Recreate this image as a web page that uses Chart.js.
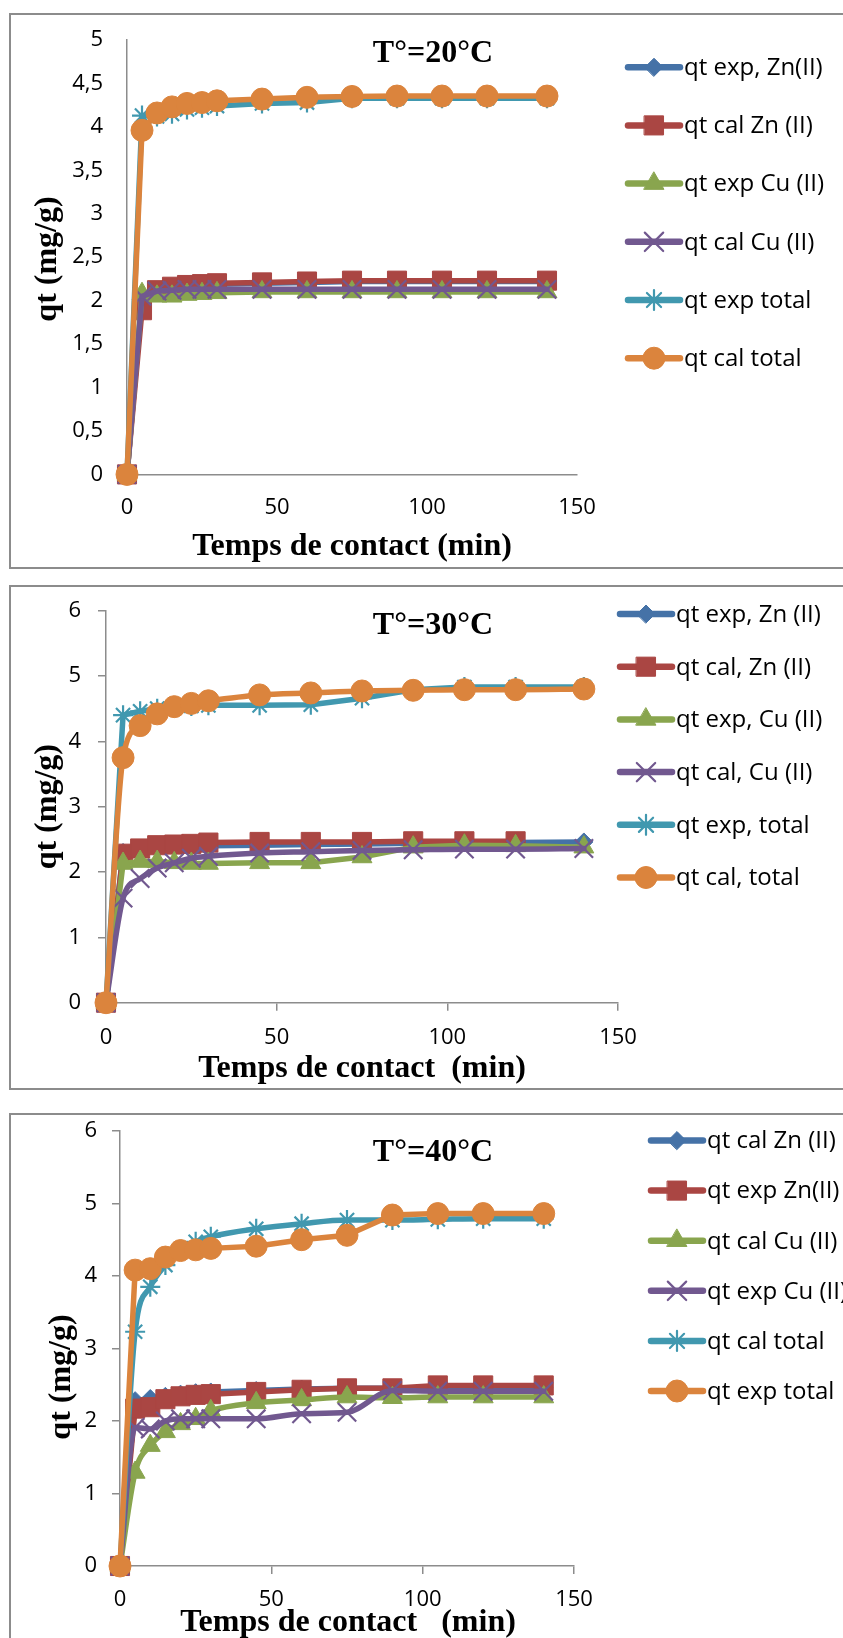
<!DOCTYPE html>
<html><head><meta charset="utf-8">
<script src="https://cdn.jsdelivr.net/npm/chart.js@4.4.1/dist/chart.umd.min.js"></script>
<style>
html,body{margin:0;padding:0;background:#fff;width:843px;height:1638px;overflow:hidden;position:relative}
.box{position:absolute;border:2px solid #8c8c8c;box-sizing:border-box}
canvas{position:absolute;left:0}
</style></head><body>
<div class="box" style="left:9px;top:13px;width:900px;height:556px"></div>
<div class="box" style="left:9px;top:585px;width:900px;height:505px"></div>
<div class="box" style="left:9px;top:1113px;width:900px;height:600px"></div>
<canvas id="c1" width="843" height="580" style="top:0px"></canvas>
<canvas id="c2" width="843" height="520" style="top:580px"></canvas>
<canvas id="c3" width="843" height="538" style="top:1100px"></canvas>
<script>
// ---------- data ----------
const time = [0, 5, 10, 15, 20, 25, 30, 45, 60, 75, 90, 105, 120, 140];
const xTickLabels = ['0', '50', '100', '150'];

// T = 20 °C
const labels20 = ['qt exp, Zn(II)', 'qt cal Zn (II)', 'qt exp Cu (II)', 'qt cal Cu (II)', 'qt exp total', 'qt cal total'];
const znExp20 = [0, 2.05, 2.12, 2.15, 2.17, 2.18, 2.19, 2.20, 2.21, 2.22, 2.22, 2.22, 2.22, 2.22];
const znCal20 = [0, 1.89, 2.12, 2.16, 2.18, 2.19, 2.20, 2.21, 2.22, 2.23, 2.23, 2.23, 2.23, 2.23];
const cuExp20 = [0, 2.08, 2.05, 2.05, 2.07, 2.08, 2.09, 2.10, 2.10, 2.10, 2.10, 2.10, 2.10, 2.10];
const cuCal20 = [0, 2.05, 2.11, 2.12, 2.13, 2.13, 2.13, 2.13, 2.13, 2.13, 2.13, 2.13, 2.13, 2.13];
const totExp20 = [0, 4.13, 4.12, 4.15, 4.20, 4.22, 4.24, 4.27, 4.28, 4.33, 4.33, 4.33, 4.33, 4.33];
const totCal20 = [0, 3.96, 4.16, 4.23, 4.27, 4.28, 4.30, 4.32, 4.34, 4.35, 4.355, 4.355, 4.355, 4.355];
const yTickLabels20 = ['0', '0,5', '1', '1,5', '2', '2,5', '3', '3,5', '4', '4,5', '5'];

// T = 30 °C
const labels30 = ['qt exp, Zn (II)', 'qt cal, Zn (II)', 'qt exp, Cu (II)', 'qt cal, Cu (II)', 'qt exp, total', 'qt cal, total'];
const znExp30 = [0, 2.30, 2.33, 2.36, 2.38, 2.39, 2.40, 2.41, 2.42, 2.43, 2.44, 2.45, 2.45, 2.46];
const znCal30 = [0, 2.28, 2.36, 2.41, 2.42, 2.43, 2.45, 2.46, 2.46, 2.46, 2.47, 2.47, 2.47, null];
const cuExp30 = [0, 2.13, 2.16, 2.16, 2.14, 2.13, 2.13, 2.14, 2.14, 2.23, 2.38, 2.41, 2.40, 2.38];
const cuCal30 = [0, 1.60, 1.90, 2.06, 2.14, 2.21, 2.24, 2.29, 2.31, 2.33, 2.34, 2.35, 2.35, 2.36];
const totExp30 = [0, 4.40, 4.46, 4.50, 4.52, 4.54, 4.55, 4.55, 4.56, 4.66, 4.79, 4.83, 4.83, 4.83];
const totCal30 = [0, 3.75, 4.24, 4.42, 4.53, 4.58, 4.62, 4.71, 4.74, 4.77, 4.78, 4.79, 4.79, 4.80];
const yTickLabels30 = ['0', '1', '2', '3', '4', '5', '6'];

// T = 40 °C
const labels40 = ['qt cal Zn (II)', 'qt exp Zn(II)', 'qt cal Cu (II)', 'qt exp Cu (II)', 'qt cal total', 'qt exp total'];
const znCal40 = [0, 2.28, 2.31, 2.34, 2.37, 2.39, 2.40, 2.42, 2.44, 2.45, 2.45, 2.46, 2.46, 2.46];
const znExp40 = [0, 2.17, 2.19, 2.30, 2.34, 2.36, 2.37, 2.40, 2.43, 2.45, 2.45, 2.49, 2.49, 2.49];
const cuCal40 = [0, 1.29, 1.66, 1.85, 1.96, 2.03, 2.14, 2.25, 2.29, 2.33, 2.32, 2.33, 2.33, 2.33];
const cuExp40 = [0, 1.91, 1.89, 2.00, 2.03, 2.03, 2.03, 2.03, 2.10, 2.12, 2.42, 2.41, 2.41, 2.41];
const totCal40 = [0, 3.23, 3.85, 4.15, 4.36, 4.47, 4.54, 4.65, 4.72, 4.77, 4.77, 4.78, 4.79, 4.79];
const totExp40 = [0, 4.08, 4.10, 4.26, 4.35, 4.36, 4.38, 4.41, 4.50, 4.56, 4.84, 4.86, 4.86, 4.86];
const yTickLabels40 = ['0', '1', '2', '3', '4', '5', '6'];

// ---------- styles ----------
const COLORS = ['#4572A7', '#AA4643', '#89A54E', '#71588F', '#4198AF', '#DB843D'];
const STYLES = ['rectRot', 'rect', 'triangle', 'crossRot', 'star', 'circle'];
const RADII = [9, 13.5, 11.5, 13, 10, 11];
const TICK_FONT = {family: "'Open Sans', 'Noto Sans', sans-serif", size: 22};
const LEG_FONT = "24px 'Open Sans', 'Noto Sans', sans-serif";
const TITLE_FONT = "bold 32px 'Liberation Serif', 'DejaVu Serif', serif";
const AXIS_GRAY = '#8c8c8c';

function makeDatasets(labels, series, smooth) {
  return series.map((vals, i) => ({
    label: labels[i],
    data: time.map((t, j) => ({x: t, y: vals[j]})),
    borderColor: COLORS[i],
    backgroundColor: COLORS[i],
    borderWidth: 5.5,
    borderJoinStyle: 'round',
    borderCapStyle: 'round',
    pointStyle: STYLES[i],
    pointRadius: RADII[i],
    pointHoverRadius: RADII[i],
    pointBorderWidth: (STYLES[i] === 'crossRot' || STYLES[i] === 'star') ? 2.2 : 1,
    pointBorderColor: COLORS[i],
    pointBackgroundColor: COLORS[i],
    cubicInterpolationMode: smooth[i] ? 'monotone' : 'default',
    tension: 0,
    order: 6 - i,
    clip: false
  }));
}

const textPlugin = {
  id: 'texts',
  afterDraw(chart, args, o) {
    const ctx = chart.ctx;
    const top = o.canvasTop;
    ctx.save();
    // legend
    const dsets = chart.data.datasets;
    ctx.font = LEG_FONT;
    ctx.textBaseline = 'middle';
    ctx.textAlign = 'left';
    dsets.forEach((d, i) => {
      const y = o.leg.y0 + i * o.leg.dy - top;
      ctx.strokeStyle = d.borderColor;
      ctx.lineWidth = 6.5;
      ctx.lineCap = 'round';
      ctx.beginPath();
      ctx.moveTo(o.leg.x1, y);
      ctx.lineTo(o.leg.x2, y);
      ctx.stroke();
      ctx.fillStyle = d.borderColor;
      ctx.strokeStyle = d.borderColor;
      ctx.lineWidth = d.pointBorderWidth;
      if (Chart.helpers && Chart.helpers.drawPoint) {
        Chart.helpers.drawPoint(ctx, {pointStyle: d.pointStyle, radius: d.pointRadius, rotation: 0, borderWidth: d.pointBorderWidth}, (o.leg.x1 + o.leg.x2) / 2, y);
      }
      ctx.fillStyle = '#000';
      ctx.fillText(d.label, o.leg.tx, y + 1);
    });
    // titles
    ctx.fillStyle = '#000';
    ctx.font = TITLE_FONT;
    ctx.textAlign = 'center';
    ctx.textBaseline = 'middle';
    ctx.fillText(o.title.text, o.title.x, o.title.y - top);
    ctx.fillText(o.xTitle.text, o.xTitle.x, o.xTitle.y - top);
    ctx.translate(o.yTitle.x, o.yTitle.y - top);
    ctx.rotate(-Math.PI / 2);
    ctx.fillText(o.yTitle.text, 0, 0);
    ctx.restore();
  }
};

function makeChart(id, cfg) {
  const canvas = document.getElementById(id);
  const H = canvas.height;
  const top = cfg.canvasTop;
  const area = {left: cfg.area.left, right: cfg.area.right, top: cfg.area.top - top, bottom: cfg.area.bottom - top};
  return new Chart(canvas, {
    type: 'line',
    data: {datasets: makeDatasets(cfg.labels, cfg.series, cfg.smooth)},
    options: {
      responsive: false,
      animation: false,
      devicePixelRatio: 1,
      layout: {padding: {left: 0, top: area.top, right: canvas.width - area.right, bottom: 0}},
      plugins: {
        legend: {display: false},
        tooltip: {enabled: false},
        texts: Object.assign({canvasTop: top}, cfg.texts)
      },
      scales: {
        x: {
          type: 'linear', min: 0, max: 150,
          ticks: {stepSize: 50, autoSkip: false, maxRotation: 0, padding: cfg.xPad, color: '#000', font: TICK_FONT,
                  callback: (v, i) => xTickLabels[i]},
          grid: {display: cfg.tickMarks, drawOnChartArea: false, drawTicks: cfg.tickMarks, tickLength: 8, color: AXIS_GRAY, lineWidth: 1.5},
          border: {display: true, color: AXIS_GRAY, width: 1.5},
          afterFit: s => { s.height = H - area.bottom; }
        },
        y: {
          type: 'linear', min: 0, max: cfg.ymax,
          ticks: {stepSize: cfg.ystep, autoSkip: false, padding: cfg.yPad, color: '#000', font: TICK_FONT,
                  callback: (v, i) => cfg.yLabels[i]},
          grid: {display: cfg.tickMarks, drawOnChartArea: false, drawTicks: cfg.tickMarks, tickLength: 8, color: AXIS_GRAY, lineWidth: 1.5},
          border: {display: true, color: AXIS_GRAY, width: 1.5},
          afterFit: s => { s.width = area.left; }
        }
      }
    },
    plugins: [textPlugin]
  });
}

makeChart('c1', {
  canvasTop: 0,
  area: {left: 127, right: 577, top: 40, bottom: 474.4},
  ymax: 5, ystep: 0.5, yLabels: yTickLabels20,
  tickMarks: false, xPad: 20.5, yPad: 24,
  labels: labels20,
  series: [znExp20, znCal20, cuExp20, cuCal20, totExp20, totCal20],
  smooth: [false, false, false, false, false, false],
  texts: {
    leg: {y0: 67.2, dy: 58.2, x1: 628, x2: 680, tx: 684},
    title: {text: 'T°=20°C', x: 433, y: 54},
    xTitle: {text: 'Temps de contact (min)', x: 352, y: 547},
    yTitle: {text: 'qt (mg/g)', x: 48, y: 259}
  }
});

makeChart('c2', {
  canvasTop: 580,
  area: {left: 106, right: 618, top: 610.6, bottom: 1002.7},
  ymax: 6, ystep: 1, yLabels: yTickLabels30,
  tickMarks: true, xPad: 13.5, yPad: 17,
  labels: labels30,
  series: [znExp30, znCal30, cuExp30, cuCal30, totExp30, totCal30],
  smooth: [false, false, false, true, false, true],
  texts: {
    leg: {y0: 614, dy: 52.7, x1: 620, x2: 672, tx: 676},
    title: {text: 'T°=30°C', x: 433, y: 626},
    xTitle: {text: 'Temps de contact  (min)', x: 362, y: 1068.6},
    yTitle: {text: 'qt (mg/g)', x: 48, y: 806.7}
  }
});

makeChart('c3', {
  canvasTop: 1100,
  area: {left: 120, right: 574, top: 1130.9, bottom: 1566},
  ymax: 6, ystep: 1, yLabels: yTickLabels40,
  tickMarks: true, xPad: 13, yPad: 15,
  labels: labels40,
  series: [znCal40, znExp40, cuCal40, cuExp40, totCal40, totExp40],
  smooth: [false, false, true, true, true, false],
  texts: {
    leg: {y0: 1140.5, dy: 50.1, x1: 651, x2: 703, tx: 707},
    title: {text: 'T°=40°C', x: 433, y: 1153},
    xTitle: {text: 'Temps de contact   (min)', x: 348, y: 1623},
    yTitle: {text: 'qt (mg/g)', x: 62, y: 1377}
  }
});
</script>
</body></html>
